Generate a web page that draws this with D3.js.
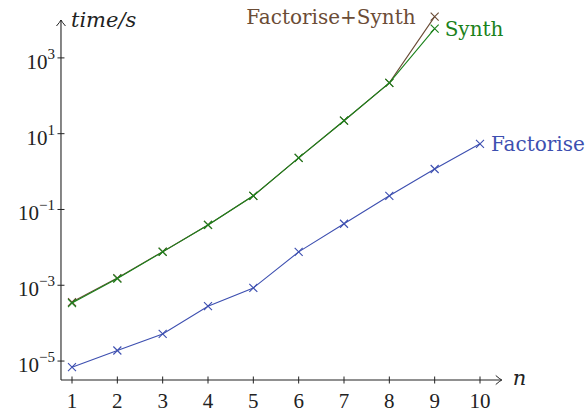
<!DOCTYPE html>
<html>
<head>
<meta charset="utf-8">
<script src="https://cdn.jsdelivr.net/npm/d3@7"></script>
<style>
  body { margin: 0; background: #fff; }
</style>
</head>
<body>
<div id="chart-area"></div>
<script>
// data (seconds per n)
const nValues = [1, 2, 3, 4, 5, 6, 7, 8, 9, 10];
const factorise = [6.9e-6, 1.9e-5, 5.2e-5, 2.8e-4, 8.5e-4, 7.6e-3, 0.042, 0.23, 1.17, 5.4];
const synth = [3.4e-4, 1.5e-3, 7.6e-3, 0.039, 0.23, 2.3, 22, 219, 5900];
const factoriseSynth = [3.6e-4, 1.55e-3, 7.7e-3, 0.039, 0.23, 2.3, 22, 220, 12300];
const yTicks = [1e-5, 1e-3, 1e-1, 1e1, 1e3];
const yTickExp = ["\u22125", "\u22123", "\u22121", "1", "3"];

const width = 585, height = 414;
const wordFont = "'DejaVu Serif', serif";
const numFont = "'Liberation Serif', 'DejaVu Serif', serif";

const svg = d3.select("#chart-area").append("svg")
    .attr("width", width)
    .attr("height", height)
    .style("font-family", wordFont);

// Scales
const x = d3.scaleLinear().domain([1, 10]).range([72, 480]);
const y = d3.scaleLog().domain([Math.pow(10, -5.5), 1e4]).range([380, 20]);

const xStart = 0.757, xEnd = 10.48;   // axis line extent in n units
const axisY = y(Math.pow(10, -5.5)), axisX = x(xStart);

// arrow head (open chevron)
svg.append("defs").append("marker")
    .attr("id", "arrow")
    .attr("viewBox", "-10 -6 12 12")
    .attr("refX", 0).attr("refY", 0)
    .attr("markerWidth", 12).attr("markerHeight", 12)
    .attr("markerUnits", "userSpaceOnUse")
    .attr("orient", "auto")
  .append("path")
    .attr("d", "M-6,-4.5 Q-2,-1 0,0 Q-2,1 -6,4.5")
    .attr("fill", "none")
    .attr("stroke", "#222")
    .attr("stroke-width", 1);

// Axis lines
svg.append("line")
    .attr("x1", axisX).attr("y1", axisY)
    .attr("x2", x(xEnd)).attr("y2", axisY)
    .attr("stroke", "#222").attr("stroke-width", 1.1)
    .attr("marker-end", "url(#arrow)");
svg.append("line")
    .attr("x1", axisX).attr("y1", axisY)
    .attr("x2", axisX).attr("y2", y(1e4))
    .attr("stroke", "#222").attr("stroke-width", 1.1)
    .attr("marker-end", "url(#arrow)");

// X ticks
const xAxisG = svg.append("g")
    .attr("transform", "translate(0," + axisY + ")");
const xt = xAxisG.selectAll(".xtick").data(nValues).enter().append("g")
    .attr("class", "xtick")
    .attr("transform", d => "translate(" + x(d) + ",0)");
xt.append("line")
    .attr("y1", -3.5).attr("y2", 3.5)
    .attr("stroke", "#222").attr("stroke-width", 1);
xt.append("text")
    .attr("y", 28)
    .attr("text-anchor", "middle")
    .style("font-family", numFont)
    .attr("font-size", 21)
    .attr("fill", "#222")
    .text(d => d);

// Y ticks
const yAxisG = svg.append("g")
    .attr("transform", "translate(" + axisX + ",0)");
const yt = yAxisG.selectAll(".ytick").data(yTicks).enter().append("g")
    .attr("class", "ytick")
    .attr("transform", d => "translate(0," + y(d) + ")");
yt.append("line")
    .attr("x1", -3.5).attr("x2", 3.5)
    .attr("stroke", "#222").attr("stroke-width", 1);
const ytText = yt.append("text")
    .attr("x", -6)
    .attr("y", 11)
    .attr("text-anchor", "end")
    .style("font-family", numFont)
    .attr("font-size", 21)
    .attr("fill", "#222");
ytText.append("tspan").text("10");
ytText.append("tspan")
    .attr("dy", -10)
    .attr("font-size", 15)
    .text((d, i) => yTickExp[i]);

// Axis labels
svg.append("text")
    .attr("x", axisX + 10).attr("y", 27)
    .attr("font-size", 21).attr("font-style", "italic")
    .attr("fill", "#222")
    .text("time/s");
svg.append("text")
    .attr("x", x(xEnd) + 11).attr("y", axisY + 5)
    .attr("font-size", 21).attr("font-style", "italic")
    .attr("fill", "#222")
    .text("n");

// Series
const series = [
    { name: "Factorise", values: factorise, color: "#3d4fb0", anchor: "start", dx: 11 },
    { name: "Factorise+Synth", values: factoriseSynth, color: "#6b4c36", anchor: "end", dx: -19 },
    { name: "Synth", values: synth, color: "#1b821b", anchor: "start", dx: 10 }
];

const line = d3.line()
    .x((d, i) => x(nValues[i]))
    .y(d => y(d));

series.forEach(s => {
    const g = svg.append("g");
    g.append("path")
        .attr("d", line(s.values))
        .attr("fill", "none")
        .attr("stroke", s.color)
        .attr("stroke-width", 1.1);
    g.selectAll("path.mark").data(s.values).enter().append("path")
        .attr("class", "mark")
        .attr("transform", (d, i) => "translate(" + x(nValues[i]) + "," + y(d) + ")")
        .attr("d", "M-4,-4L4,4M-4,4L4,-4")
        .attr("stroke", s.color)
        .attr("stroke-width", 1.1);
    const last = s.values.length - 1;
    g.append("text")
        .attr("x", x(nValues[last]) + s.dx)
        .attr("y", y(s.values[last]) + 7)
        .attr("text-anchor", s.anchor)
        .attr("font-size", 20)
        .attr("fill", s.color)
        .text(s.name);
});
</script>
</body>
</html>
